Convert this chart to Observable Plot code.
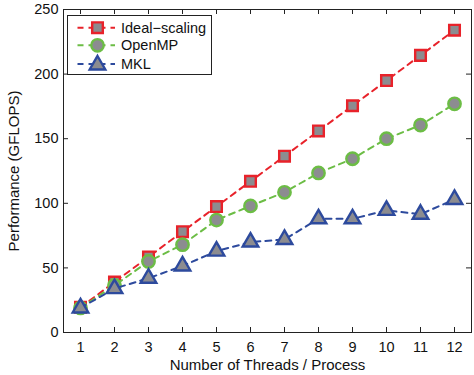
<!DOCTYPE html>
<html>
<head>
<meta charset="utf-8">
<script src="https://cdn.jsdelivr.net/npm/d3@7"></script>
<script src="https://cdn.jsdelivr.net/npm/@observablehq/plot@0.6"></script>
<style>
  html, body { margin: 0; padding: 0; background: #fff; }
  #wrap { position: relative; width: 474px; height: 375px; font-family: "Liberation Sans", Arial, Helvetica, sans-serif; }
  #legend { position: absolute; left: 67px; top: 15px; width: 143px; height: 58px; border: 1px solid #222; background: #fff; box-sizing: content-box; }
  #legend svg { position: absolute; left: 0; top: 0; }
</style>
</head>
<body>
<div id="wrap"><div id="legend"></div></div>
<script>
const threads = [1, 2, 3, 4, 5, 6, 7, 8, 9, 10, 11, 12];
const idealScaling = [19.5, 39, 58.5, 78, 97.5, 117, 136.5, 156, 175.5, 195, 214.5, 234];
const openMP = [19, 36.5, 55, 68, 87, 98, 108.5, 123.5, 134.5, 150, 160.5, 177];
const mkl = [19, 34, 42, 51.5, 63, 70, 72, 88, 88, 94.5, 91.5, 103];
const seriesNames = ["Ideal\u2212scaling", "OpenMP", "MKL"];
const xTicks = [1, 2, 3, 4, 5, 6, 7, 8, 9, 10, 11, 12];
const yTicks = [0, 50, 100, 150, 200, 250];

const colors = ["#e8222a", "#6cbd45", "#2d4a9d"];
const symbols = ["square", "circle", "triangle"];
const radii = [6, 6.2, 5.8];
const gray = "#8c8c90";
const values = [idealScaling, openMP, mkl];

const W = 474, H = 375, mL = 63, mR = 3, mT = 9, mB = 43;
const pw = W - mL - mR, ph = H - mT - mB;

const marks = [
  Plot.frame({stroke: "#222", strokeWidth: 1}),
  Plot.axisX(xTicks, {tickSize: 0, tickPadding: 9, fontSize: 14.5, label: null}),
  Plot.axisX({tickSize: 0, ticks: [], fontSize: 15, label: "Number of Threads / Process", labelAnchor: "center", labelOffset: 37, labelArrow: "none"}),
  Plot.axisY(yTicks, {tickSize: 0, tickPadding: 5, fontSize: 14.5, label: null}),
  Plot.axisY({tickSize: 0, ticks: [], fontSize: 15, label: "Performance (GFLOPS)", labelAnchor: "center", labelOffset: 55, labelArrow: "none"}),
  Plot.tickX(xTicks, {x: d => d, insetTop: ph - 5, stroke: "#222"}),
  Plot.tickX(xTicks, {x: d => d, insetBottom: ph - 5, stroke: "#222"}),
  Plot.tickY(yTicks, {y: d => d, insetRight: pw - 5, stroke: "#222"}),
  Plot.tickY(yTicks, {y: d => d, insetLeft: pw - 5, stroke: "#222"})
];
values.forEach((vals, k) => {
  const data = threads.map((t, i) => ({t, v: vals[i]}));
  marks.push(Plot.line(data, {x: "t", y: "v", stroke: colors[k], strokeWidth: 2, strokeDasharray: "6,5"}));
  marks.push(Plot.dot(data, {x: "t", y: "v", symbol: symbols[k], r: radii[k], fill: gray, stroke: colors[k], strokeWidth: 2.4}));
});

const chart = Plot.plot({
  width: W, height: H,
  marginLeft: mL, marginRight: mR, marginTop: mT, marginBottom: mB,
  style: {fontFamily: "'Liberation Sans', Arial, Helvetica, sans-serif", fontSize: "14px", background: "#fff", color: "#111", overflow: "visible"},
  x: {domain: [0.5, 12.5]},
  y: {domain: [0, 250]},
  marks
});
document.getElementById("wrap").prepend(chart);

// legend
const lg = d3.select("#legend").append("svg").attr("width", 143).attr("height", 58);
const rowY = [11.7, 29.3, 48];
seriesNames.forEach((name, k) => {
  const g = lg.append("g").attr("transform", `translate(0,${rowY[k]})`);
  g.append("line").attr("x1", 9.5).attr("x2", 47).attr("y1", 0).attr("y2", 0)
    .attr("stroke", colors[k]).attr("stroke-width", 2).attr("stroke-dasharray", "6,5");
  const sym = d3.symbol().type(k === 0 ? d3.symbolSquare : k === 1 ? d3.symbolCircle : d3.symbolTriangle)
    .size(radii[k] * radii[k] * Math.PI);
  g.append("path").attr("d", sym()).attr("transform", `translate(29.5,${k === 2 ? 1 : 0})`)
    .attr("fill", gray).attr("stroke", colors[k]).attr("stroke-width", 2.4);
  g.append("text").attr("x", 53).attr("y", 5).attr("font-size", 14.5).attr("fill", "#111")
    .attr("font-family", "'Liberation Sans', Arial, Helvetica, sans-serif").text(name);
});
</script>
</body>
</html>
